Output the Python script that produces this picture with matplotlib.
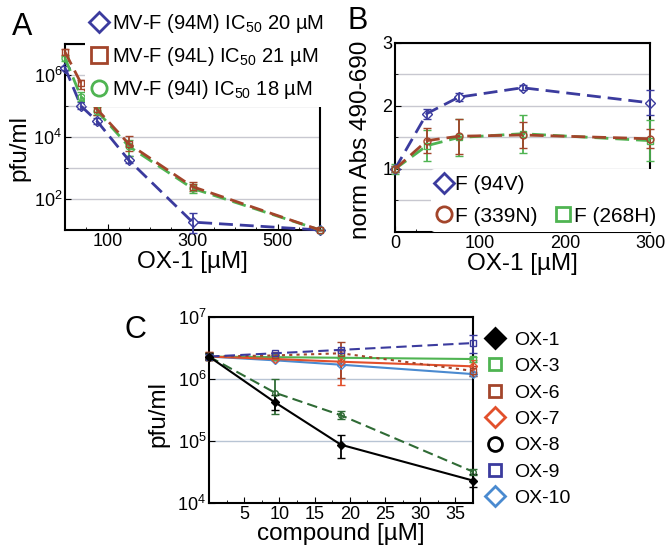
import matplotlib
matplotlib.use("Agg")
import matplotlib.pyplot as plt
import numpy as np
from matplotlib.lines import Line2D
from matplotlib.ticker import FixedLocator, NullFormatter, MultipleLocator

plt.rcParams["font.family"] = ["Liberation Sans", "DejaVu Sans"]
plt.rcParams["mathtext.default"] = "regular"

# ── Panel A data: pfu/ml vs OX-1 ──────────────────────────────────────────
a_x = [0, 37.5, 75, 150, 300, 600]
a_94m = [1.7e6, 1.0e5, 3.3e4, 1.8e3, 18, 10]
a_94m_lo = [1.4e6, 8e4, 2.6e4, 1.4e3, 8, 10]
a_94m_hi = [2.0e6, 1.3e5, 4.2e4, 2.4e3, 35, 10]
a_94l = [5.5e6, 5.5e5, 8e4, 6e3, 250, 10]
a_94l_lo = [4.5e6, 3.5e5, 5e4, 3.5e3, 180, 10]
a_94l_hi = [7e6, 7e5, 1.3e5, 1.1e4, 350, 10]
a_94i = [3.5e6, 2e5, 7e4, 5e3, 220, 10]
a_94i_lo = [2.8e6, 1.5e5, 5e4, 2.5e3, 160, 10]
a_94i_hi = [4.2e6, 2.8e5, 9e4, 8e3, 300, 10]
a_labels = ["MV-F (94M) IC$_{50}$ 20 µM",
            "MV-F (94L) IC$_{50}$ 21 µM",
            "MV-F (94I) IC$_{50}$ 18 µM"]

# ── Panel B data: norm Abs vs OX-1 ────────────────────────────────────────
b_x = [0, 37.5, 75, 150, 300]
b_94v = [1.0, 1.88, 2.14, 2.29, 2.05]
b_94v_err = [0.05, 0.08, 0.06, 0.04, 0.2]
b_339n = [1.0, 1.45, 1.52, 1.54, 1.48]
b_339n_err = [0.04, 0.2, 0.28, 0.2, 0.15]
b_268h = [1.0, 1.37, 1.5, 1.56, 1.45]
b_268h_err = [0.08, 0.25, 0.3, 0.3, 0.33]
b_labels = ["F (94V)", "F (339N)", "F (268H)"]

# ── Panel C data: pfu/ml vs compound ──────────────────────────────────────
c_x = [0, 9.375, 18.75, 37.5]
c_ox1 = [2.3e6, 4.2e5, 8.7e4, 2.3e4]
c_ox1_lo = [2.1e6, 3.2e5, 5.3e4, 1.8e4]
c_ox1_hi = [2.6e6, 5.5e5, 1.25e5, 2.9e4]
c_ox3 = [2.3e6, 2.25e6, 2.2e6, 2.1e6]
c_ox3_lo = [2.1e6, 2.25e6, 2.2e6, 1.9e6]
c_ox3_hi = [2.5e6, 2.25e6, 2.2e6, 2.3e6]
c_ox6 = [2.3e6, 2.4e6, 2.6e6, 1.35e6]
c_ox6_lo = [2.0e6, 2.4e6, 1.05e6, 1.1e6]
c_ox6_hi = [2.7e6, 2.4e6, 4.0e6, 1.6e6]
c_ox7 = [2.3e6, 2.1e6, 1.9e6, 1.6e6]
c_ox7_lo = [2.0e6, 2.1e6, 8e5, 1.2e6]
c_ox7_hi = [2.7e6, 2.1e6, 2.9e6, 2.0e6]
c_ox8 = [2.3e6, 6.0e5, 2.6e5, 3.2e4]
c_ox8_lo = [2.0e6, 2.7e5, 2.3e5, 2.8e4]
c_ox8_hi = [2.6e6, 1.0e6, 3.0e5, 3.6e4]
c_ox9 = [2.3e6, 2.6e6, 2.95e6, 3.8e6]
c_ox9_lo = [2.1e6, 2.6e6, 2.95e6, 2.6e6]
c_ox9_hi = [2.5e6, 2.6e6, 2.95e6, 5.2e6]
c_ox10 = [2.3e6, 2.0e6, 1.7e6, 1.2e6]
c_ox10_lo = [2.1e6, 2.0e6, 1.7e6, 1.1e6]
c_ox10_hi = [2.5e6, 2.0e6, 1.7e6, 1.3e6]
c_labels = ["OX-1", "OX-3", "OX-6", "OX-7", "OX-8", "OX-9", "OX-10"]

BLUE = "#3b3b9e"
RED = "#a3452b"
GREEN = "#4fb452"
ORANGE = "#e2502c"
DKGREEN = "#2f6b35"
LTBLUE = "#4a8ad0"
GRID = "#c8c8d0"


def asym(y, lo, hi):
    y = np.asarray(y)
    return [y - np.asarray(lo), np.asarray(hi) - y]


def style_axes(ax):
    ax.tick_params(which="both", direction="in", labelsize=13, pad=2)
    ax.tick_params(which="major", length=4)
    ax.tick_params(which="minor", length=2.5)
    for s in ax.spines.values():
        s.set_linewidth(1.5)


fig = plt.figure(figsize=(6.65, 5.48), dpi=100)

# ── A ─────────────────────────────────────────────────────────────────────
axA = fig.add_axes([65 / 665, 1 - 230 / 548, 255 / 665, 186 / 548])
for y, lo, hi, c, m in [(a_94m, a_94m_lo, a_94m_hi, BLUE, "D"),
                        (a_94i, a_94i_lo, a_94i_hi, GREEN, "o"),
                        (a_94l, a_94l_lo, a_94l_hi, RED, "s")]:
    axA.errorbar(a_x, y, yerr=asym(y, lo, hi), color=c, ls=(0, (5, 2.5)), lw=2,
                 marker=m, ms=5, mfc="none", mec=c, capsize=3, elinewidth=1.3,
                 clip_on=False, zorder=3)
axA.set_yscale("log")
axA.set_xlim(0, 600)
axA.set_ylim(10, 1e7)
axA.set_xticks([100, 300, 500])
axA.xaxis.set_minor_locator(MultipleLocator(50))
axA.set_yticks([1e2, 1e4, 1e6])
axA.set_yticklabels(["$10^{2}$", "$10^{4}$", "$10^{6}$"])
axA.yaxis.set_minor_locator(FixedLocator([1e1, 1e3, 1e5, 1e7]))
axA.yaxis.set_minor_formatter(NullFormatter())
axA.grid(True, which="both", axis="y", color=GRID, lw=1)
axA.set_axisbelow(True)
style_axes(axA)
axA.set_xlabel("OX-1 [µM]", fontsize=17.5, labelpad=1)
axA.set_ylabel("pfu/ml", fontsize=17.5)
axA.yaxis.set_label_coords(-0.135, 0.44)
hA = [Line2D([], [], ls="none", marker=m, ms=m_s, mfc="white", mec=c, mew=2)
      for m, m_s, c in [("D", 10, BLUE), ("s", 11, RED), ("o", 11, GREEN)]]
legA = axA.legend(hA, a_labels, loc="upper left", bbox_to_anchor=(0.08, 1.205),
                  fontsize=14.5, frameon=True, facecolor="white", edgecolor="none",
                  framealpha=1, handlelength=0.8, handletextpad=0.2,
                  labelspacing=0.5, borderpad=0.3, borderaxespad=0)
fig.text(12 / 665, 1 - 35 / 548, "A", fontsize=22)

# ── B ─────────────────────────────────────────────────────────────────────
axB = fig.add_axes([395 / 665, 1 - 232 / 548, 255 / 665, 189 / 548])
for y, e, c, m in [(b_94v, b_94v_err, BLUE, "D"),
                   (b_268h, b_268h_err, GREEN, "s"),
                   (b_339n, b_339n_err, RED, "o")]:
    axB.errorbar(b_x, y, yerr=e, color=c, ls=(0, (5, 2.5)), lw=2, marker=m, ms=5,
                 mfc="none", mec=c, capsize=3, elinewidth=1.3, clip_on=False,
                 zorder=3)
axB.set_xlim(0, 300)
axB.set_ylim(0, 3)
axB.set_xticks([0, 100, 200, 300])
axB.xaxis.set_minor_locator(MultipleLocator(25))
axB.set_yticks([1, 2, 3])
axB.yaxis.set_minor_locator(MultipleLocator(0.5))
axB.grid(True, which="both", axis="y", color=GRID, lw=1)
axB.set_axisbelow(True)
style_axes(axB)
axB.set_xlabel("OX-1 [µM]", fontsize=17.5, labelpad=1)
axB.set_ylabel("norm Abs 490-690", fontsize=17.5)
axB.yaxis.set_label_coords(-0.09, 0.49)
blank = Line2D([], [], ls="none")
hB = [Line2D([], [], ls="none", marker="D", ms=10, mfc="white", mec=BLUE, mew=2),
      Line2D([], [], ls="none", marker="o", ms=11, mfc="white", mec=RED, mew=2),
      blank,
      Line2D([], [], ls="none", marker="s", ms=10, mfc="white", mec=GREEN, mew=2)]
legB = axB.legend(hB, [b_labels[0], b_labels[1], "", b_labels[2]], ncol=2,
                  loc="lower left", bbox_to_anchor=(0.14, 0.0), fontsize=15,
                  frameon=True, facecolor="white", edgecolor="none", framealpha=1,
                  handlelength=0.7, handletextpad=0.15, labelspacing=0.6,
                  columnspacing=0.9, borderpad=0.3, borderaxespad=0)
fig.text(347 / 665, 1 - 29 / 548, "B", fontsize=22)

# ── C ─────────────────────────────────────────────────────────────────────
axC = fig.add_axes([209 / 665, 1 - 503 / 548, 264 / 665, 186 / 548])
series_c = [
    (c_ox10, c_ox10_lo, c_ox10_hi, LTBLUE, "-", "D"),
    (c_ox3, c_ox3_lo, c_ox3_hi, GREEN, "-", "s"),
    (c_ox7, c_ox7_lo, c_ox7_hi, ORANGE, "-", "D"),
    (c_ox6, c_ox6_lo, c_ox6_hi, RED, (0, (1.5, 2)), "s"),
    (c_ox9, c_ox9_lo, c_ox9_hi, BLUE, (0, (5, 2.5)), "s"),
    (c_ox8, c_ox8_lo, c_ox8_hi, DKGREEN, (0, (5, 2.5)), "o"),
    (c_ox1, c_ox1_lo, c_ox1_hi, "black", "-", "D"),
]
for y, lo, hi, c, ls, m in series_c:
    filled = c == "black"
    axC.errorbar(c_x, y, yerr=asym(y, lo, hi), color=c, ls=ls, lw=1.5,
                 marker=m, ms=4, mfc=c if filled else "none", mec=c,
                 capsize=3, elinewidth=1.3, clip_on=False, zorder=3)
axC.set_yscale("log")
axC.set_xlim(0, 37.5)
axC.set_ylim(1e4, 1e7)
axC.set_xticks([5, 10, 15, 20, 25, 30, 35])
axC.xaxis.set_minor_locator(MultipleLocator(2.5))
axC.set_yticks([1e4, 1e5, 1e6, 1e7])
axC.set_yticklabels(["$10^{4}$", "$10^{5}$", "$10^{6}$", "$10^{7}$"])
axC.yaxis.set_minor_locator(FixedLocator([]))
axC.grid(True, which="major", axis="y", color="#b8c4d4", lw=1)
axC.set_axisbelow(True)
style_axes(axC)
axC.set_xlabel("compound [µM]", fontsize=17.5, labelpad=0)
axC.set_ylabel("pfu/ml", fontsize=17.5)
axC.yaxis.set_label_coords(-0.15, 0.48)
hC = [Line2D([], [], ls="none", marker=m, ms=s, mfc=f, mec=c, mew=2)
      for m, s, f, c in [("D", 10, "black", "black"), ("s", 9, "white", GREEN),
                         ("s", 9, "white", RED), ("D", 10, "white", ORANGE),
                         ("o", 10, "white", "black"), ("s", 9, "white", BLUE),
                         ("D", 10, "white", LTBLUE)]]
axC.legend(hC, c_labels, loc="upper left", bbox_to_anchor=(1.025, 0.965),
           fontsize=14, frameon=False, handlelength=0.8, handletextpad=0.55,
           labelspacing=0.45, borderaxespad=0)
fig.text(125 / 665, 1 - 338 / 548, "C", fontsize=22)

fig.savefig("out.png", dpi=100)
